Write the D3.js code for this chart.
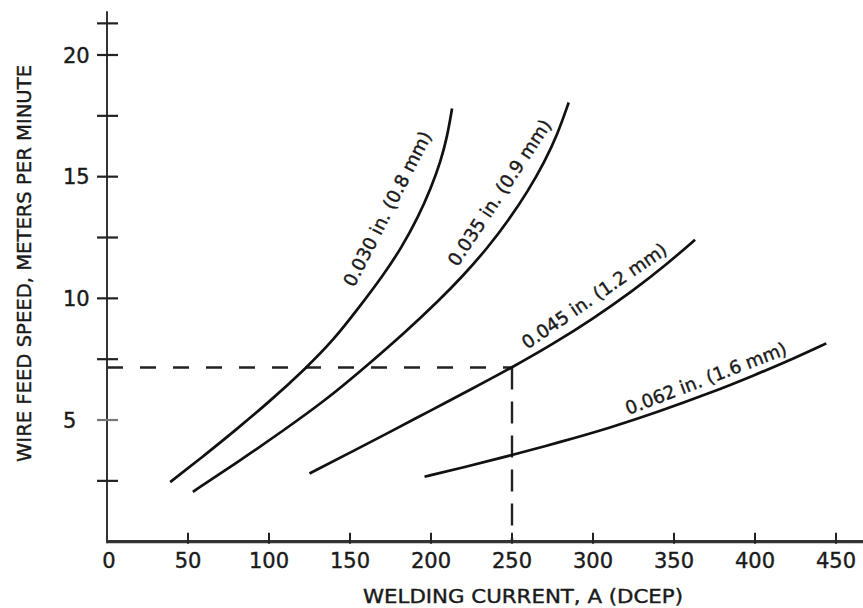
<!DOCTYPE html>
<html>
<head>
<meta charset="utf-8">
<script src="https://cdn.jsdelivr.net/npm/d3@7"></script>
<style>
  html, body { margin: 0; padding: 0; background: #fff; }
  svg { display: block; }
  text { font-family: "DejaVu Sans", sans-serif; fill: #1a1a1a; stroke: #1a1a1a; stroke-width: 0.4px; }
</style>
</head>
<body>
<svg id="chart" width="863" height="608"></svg>
<script>
// ---- data ----
const seriesNames = ["0.030 in. (0.8 mm)", "0.035 in. (0.9 mm)", "0.045 in. (1.2 mm)", "0.062 in. (1.6 mm)"];
const current030 = [39, 60, 80, 100, 123, 140, 155, 170, 182, 192, 200, 206, 210, 213];
const speed030   = [2.45, 3.54, 4.62, 5.74, 7.14, 8.3, 9.58, 10.9, 12.1, 13.33, 14.53, 15.64, 16.64, 17.8];
const current035 = [53, 80, 110, 135, 159, 185, 205, 220, 235, 248, 260, 270, 278, 285];
const speed035   = [2.05, 3.24, 4.62, 5.82, 7.15, 8.66, 9.92, 10.94, 12.08, 13.22, 14.42, 15.6, 16.72, 18.05];
const current045 = [125, 150, 175, 200, 225, 250, 275, 300, 325, 345, 363];
const speed045   = [2.8, 3.66, 4.52, 5.4, 6.27, 7.16, 8.11, 9.16, 10.33, 11.37, 12.41];
const current062 = [196, 220, 249, 280, 310, 340, 372, 400, 425, 444];
const speed062   = [2.67, 3.05, 3.54, 4.1, 4.67, 5.33, 6.1, 6.85, 7.56, 8.15];
const labelAtCurrent = [190, 254, 307, 373];

const xTickValues = [0, 50, 100, 150, 200, 250, 300, 350, 400, 450];
const yTickValues = [2.5, 5, 7.5, 10, 12.5, 15, 17.5, 20, 21.3];
const yTickLabels = [5, 10, 15, 20];
const refCurrent = 250;
const refSpeed = 7.16;
const xTitle = "WELDING CURRENT, A (DCEP)";
const yTitle = "WIRE FEED SPEED, METERS PER MINUTE";

// ---- layout ----
const svg = d3.select("#chart");
const x = d3.scaleLinear().domain([0, 450]).range([107, 836]);
const y = d3.scaleLinear().domain([0, 20]).range([541.7, 55]);
const ink = "#111";

const series = [
  current030.map((c, i) => [c, speed030[i]]),
  current035.map((c, i) => [c, speed035[i]]),
  current045.map((c, i) => [c, speed045[i]]),
  current062.map((c, i) => [c, speed062[i]])
];

// reference dashed lines
svg.append("line")
  .attr("x1", x(0)).attr("x2", x(refCurrent))
  .attr("y1", y(refSpeed)).attr("y2", y(refSpeed))
  .attr("stroke", "#222").attr("stroke-width", 2.4)
  .attr("stroke-dasharray", "16,17");
svg.append("line")
  .attr("x1", x(refCurrent)).attr("x2", x(refCurrent))
  .attr("y1", y(refSpeed)).attr("y2", y(0))
  .attr("stroke", "#222").attr("stroke-width", 2.4)
  .attr("stroke-dasharray", "22,12");

// axes lines
svg.append("line")
  .attr("x1", x(0)).attr("x2", 863)
  .attr("y1", y(0)).attr("y2", y(0))
  .attr("stroke", "#333").attr("stroke-width", 3.2);
svg.append("line")
  .attr("x1", x(0)).attr("x2", x(0))
  .attr("y1", y(0) + 1.5).attr("y2", y(21.8))
  .attr("stroke", "#333").attr("stroke-width", 2);

// y ticks (crosses)
svg.selectAll(".yt").data(yTickValues).join("line")
  .attr("x1", x(0) - 10).attr("x2", x(0) + 11)
  .attr("y1", d => y(d)).attr("y2", d => y(d))
  .attr("stroke", d => d === 5 ? "#777" : "#222")
  .attr("stroke-width", 2.2);
svg.selectAll(".yl").data(yTickLabels).join("text")
  .attr("x", x(0) - 44).attr("y", d => y(d))
  .attr("dy", "0.36em")
  .attr("text-anchor", "start")
  .attr("font-size", 21)
  .text(d => d);

// x ticks
svg.selectAll(".xt").data(xTickValues.filter(d => d > 0)).join("line")
  .attr("x1", d => x(d)).attr("x2", d => x(d))
  .attr("y1", y(0) + 2).attr("y2", y(0) - 9)
  .attr("stroke", "#222").attr("stroke-width", 2);
svg.selectAll(".xl").data(xTickValues).join("text")
  .attr("x", d => x(d) + (d === 0 ? 2 : 0)).attr("y", y(0) + 26.5)
  .attr("text-anchor", "middle")
  .attr("font-size", 21)
  .text(d => d);

// titles
svg.append("text")
  .attr("x", 523).attr("y", 603)
  .attr("text-anchor", "middle")
  .attr("font-size", 19)
  .attr("textLength", 320).attr("lengthAdjust", "spacingAndGlyphs")
  .text(xTitle);
svg.append("text")
  .attr("transform", "translate(31,263.5) rotate(-90)")
  .attr("text-anchor", "middle")
  .attr("font-size", 20)
  .attr("textLength", 397).attr("lengthAdjust", "spacingAndGlyphs")
  .text(yTitle);

// curves
const line = d3.line().x(d => x(d[0])).y(d => y(d[1])).curve(d3.curveBasis);
const paths = series.map(s =>
  svg.append("path").attr("d", line(s))
    .attr("fill", "none").attr("stroke", ink)
    .attr("stroke-width", 2.7).attr("stroke-linecap", "butt")
);

// curve labels along tangent
const labelOffsets = [31, 23, 18, 15];
paths.forEach((p, i) => {
  const node = p.node();
  const total = node.getTotalLength();
  const targetX = x(labelAtCurrent[i]);
  let lo = 0, hi = total;
  for (let k = 0; k < 40; k++) {
    const mid = (lo + hi) / 2;
    if (node.getPointAtLength(mid).x < targetX) lo = mid; else hi = mid;
  }
  const L = (lo + hi) / 2;
  const a = node.getPointAtLength(Math.max(0, L - 4));
  const b = node.getPointAtLength(Math.min(total, L + 4));
  const pt = node.getPointAtLength(L);
  const ang = Math.atan2(b.y - a.y, b.x - a.x);
  const nx = Math.sin(ang), ny = -Math.cos(ang);
  const cx = pt.x + nx * labelOffsets[i];
  const cy = pt.y + ny * labelOffsets[i];
  svg.append("text")
    .attr("transform", `translate(${cx},${cy}) rotate(${ang * 180 / Math.PI})`)
    .attr("text-anchor", "middle")
    .attr("dy", "0.36em")
    .attr("font-size", 18.3)
    .text(seriesNames[i]);
});
</script>
</body>
</html>
